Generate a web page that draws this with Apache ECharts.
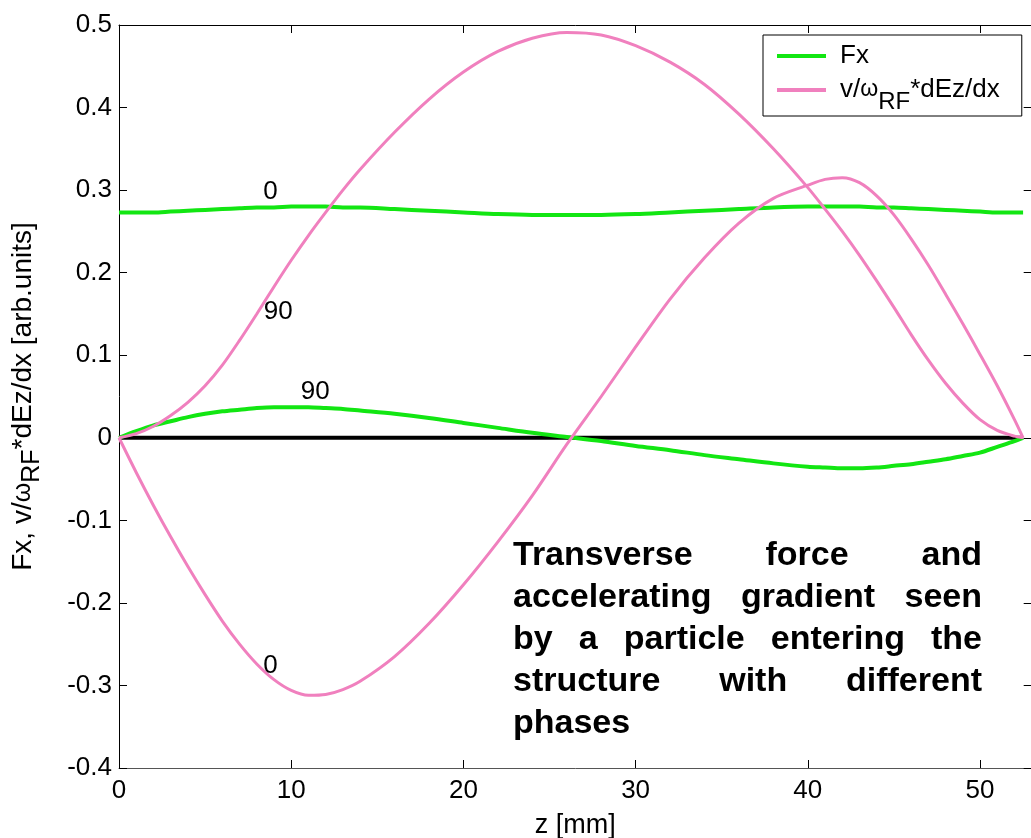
<!DOCTYPE html>
<html>
<head>
<meta charset="utf-8">
<script src="https://cdn.jsdelivr.net/npm/echarts@6/dist/echarts.min.js"></script>
<style>
  html, body { margin: 0; padding: 0; background: #fff; }
  #chart { width: 1031px; height: 838px; }
</style>
</head>
<body>
<div id="chart"></div>
<script>
// Longitudinal position along the structure [mm]
const zMm = [0, 1, 2, 3, 4, 5, 6, 7, 8, 9, 10, 11, 12, 13, 14, 16, 18, 20, 22, 24, 26, 28, 30, 32, 34, 36, 38, 40, 41, 42, 43, 44, 45, 46, 47, 48, 49, 50, 51, 52, 52.5];

// Transverse force Fx, particle entering at phase 0
const fxPhase0 = [0.273, 0.273, 0.273, 0.274, 0.275, 0.276, 0.277, 0.278, 0.279, 0.279, 0.280, 0.280, 0.280, 0.279, 0.279, 0.277, 0.275, 0.273, 0.271, 0.270, 0.270, 0.270, 0.271, 0.273, 0.275, 0.277, 0.279, 0.280, 0.280, 0.280, 0.280, 0.279, 0.279, 0.278, 0.277, 0.276, 0.275, 0.274, 0.273, 0.273, 0.273];

// Transverse force Fx, particle entering at phase 90
const fxPhase90 = [0, 0.008, 0.015, 0.020, 0.025, 0.029, 0.032, 0.034, 0.036, 0.037, 0.037, 0.037, 0.036, 0.035, 0.033, 0.029, 0.024, 0.018, 0.012, 0.006, 0.001, -0.004, -0.010, -0.015, -0.021, -0.026, -0.031, -0.035, -0.036, -0.037, -0.037, -0.036, -0.034, -0.032, -0.029, -0.026, -0.022, -0.018, -0.011, -0.004, 0];

// v/omega_RF * dEz/dx, phase 0
const gradPhase0 = [0, -0.042, -0.082, -0.120, -0.156, -0.190, -0.222, -0.250, -0.274, -0.293, -0.306, -0.312, -0.311, -0.305, -0.295, -0.265, -0.225, -0.178, -0.126, -0.070, -0.008, 0.050, 0.110, 0.168, 0.218, 0.260, 0.290, 0.306, 0.313, 0.315, 0.309, 0.293, 0.270, 0.241, 0.209, 0.174, 0.138, 0.101, 0.063, 0.022, 0];

// v/omega_RF * dEz/dx, phase 90
const gradPhase90 = [0, 0.005, 0.014, 0.027, 0.043, 0.063, 0.088, 0.118, 0.150, 0.183, 0.215, 0.245, 0.273, 0.300, 0.325, 0.370, 0.410, 0.443, 0.468, 0.484, 0.491, 0.488, 0.475, 0.455, 0.428, 0.392, 0.350, 0.303, 0.277, 0.250, 0.221, 0.190, 0.158, 0.125, 0.094, 0.066, 0.042, 0.022, 0.009, 0.002, 0];

// Phase tags written next to the curves (data coordinates)
const phaseTags = [
  { curve: 'fx0',    text: '0',  z: 8.8,  v: 0.298 },
  { curve: 'grad90', text: '90', z: 9.25, v: 0.152 },
  { curve: 'fx90',   text: '90', z: 11.4, v: 0.056 },
  { curve: 'grad0',  text: '0',  z: 8.8,  v: -0.276 }
];

const noteLines = [
  ['Transverse', 'force', 'and'],
  ['accelerating', 'gradient', 'seen'],
  ['by', 'a', 'particle', 'entering', 'the'],
  ['structure', 'with', 'different'],
  ['phases']
];

const FONT = '"Liberation Sans", Arial, Helvetica, sans-serif';
const TXT = 26;
const GREEN = '#12e612';
const PINK = '#f080be';
const FX_NAME = 'Fx';
const GRAD_NAME = 'v/ωRF*dEz/dx';

const pairs = vals => zMm.map((z, i) => [z, vals[i]]);

function tagMarks(curve) {
  return {
    symbol: 'circle', symbolSize: 1,
    itemStyle: { color: 'rgba(0,0,0,0)' },
    label: { show: true, position: 'inside', formatter: p => p.value, color: '#000', fontSize: TXT, fontFamily: FONT },
    data: phaseTags.filter(t => t.curve === curve).map(t => ({ coord: [t.z, t.v], value: t.text })),
    animation: false
  };
}

// Justified bold note, laid out word by word
const measureCtx = document.createElement('canvas').getContext('2d');
const noteFont = 'bold 34px ' + FONT;
measureCtx.font = noteFont;
const noteLeft = 513, noteWidth = 469, noteTop = 556, noteStep = 42;
const noteElems = [];
noteLines.forEach((words, li) => {
  const widths = words.map(w => measureCtx.measureText(w).width);
  const total = widths.reduce((a, b) => a + b, 0);
  const last = li === noteLines.length - 1;
  const gap = (words.length > 1 && !last) ? (noteWidth - total) / (words.length - 1) : measureCtx.measureText(' ').width;
  let x = noteLeft;
  words.forEach((w, wi) => {
    noteElems.push({
      type: 'text', x: x, y: noteTop + li * noteStep, z: 100,
      style: { text: w, font: noteFont, fill: '#000', verticalAlign: 'middle', align: 'left' }
    });
    x += widths[wi] + gap;
  });
});

const chart = echarts.init(document.getElementById('chart'), null, { renderer: 'canvas' });

const xCommon = {
  min: 0, max: 53, interval: 10, type: 'value',
  axisLine: { show: true, onZero: false, lineStyle: { color: '#000', width: 1 } },
  axisTick: { show: true, inside: true, length: 8, lineStyle: { color: '#000' } },
  splitLine: { show: false }
};
const yCommon = {
  min: -0.4, max: 0.5, interval: 0.1, type: 'value',
  axisLine: { show: true, onZero: false, lineStyle: { color: '#000', width: 1 } },
  axisTick: { show: true, inside: true, length: 8, lineStyle: { color: '#000' } },
  splitLine: { show: false }
};

chart.setOption({
  animation: false,
  backgroundColor: '#fff',
  grid: { left: 119, top: 25, width: 912.7, height: 743, containLabel: false, outerBoundsMode: 'none' },
  xAxis: [
    Object.assign({}, xCommon, {
      position: 'bottom',
      axisLine: { show: true, onZero: false, lineStyle: { color: '#555', width: 1 } },
      axisLabel: { show: true, color: '#000', fontSize: TXT, fontFamily: FONT, margin: 10, showMaxLabel: false },
      name: 'z [mm]', nameLocation: 'middle', nameGap: 44,
      nameTextStyle: { color: '#000', fontSize: 27, fontFamily: FONT }
    }),
    Object.assign({}, xCommon, { position: 'top', axisLabel: { show: false } })
  ],
  yAxis: [
    Object.assign({}, yCommon, {
      position: 'left',
      axisLabel: {
        show: true, color: '#000', fontSize: TXT, fontFamily: FONT, margin: 7,
        formatter: v => String(+v.toFixed(1))
      },
      name: 'Fx, v/{w|ω}{sub|RF}*dEz/dx [arb.units]',
      nameLocation: 'middle', nameRotate: 90, nameGap: 74,
      nameTextStyle: {
        color: '#000', fontSize: 28, fontFamily: FONT,
        rich: {
          w: { fontSize: 25, fontFamily: FONT, color: '#000' },
          sub: { fontSize: 25, fontFamily: FONT, color: '#000', padding: [18, 0, 0, 0] }
        }
      }
    }),
    Object.assign({}, yCommon, { position: 'right', axisLabel: { show: false } })
  ],
  legend: {
    orient: 'vertical', left: 763, top: 35,
    padding: [8, 22, 2, 14], itemGap: 8,
    itemWidth: 49, itemHeight: 4, icon: 'rect',
    borderColor: '#000', borderWidth: 1, backgroundColor: '#fff',
    data: [FX_NAME, GRAD_NAME],
    formatter: name => name === FX_NAME ? '{n|Fx}' : '{n|v/}{w|ω}{sub|RF}{m|*dEz/dx}',
    textStyle: {
      color: '#000', fontSize: TXT, fontFamily: FONT,
      rich: {
        n: { fontSize: TXT, fontFamily: FONT, color: '#000', padding: [0, 0, 0, 9] },
        w: { fontSize: 23, fontFamily: FONT, color: '#000' },
        sub: { fontSize: 24, fontFamily: FONT, color: '#000', padding: [24, 0, 0, 0] },
        m: { fontSize: TXT, fontFamily: FONT, color: '#000' }
      }
    },
    selectedMode: false
  },
  graphic: noteElems,
  series: [
    {
      name: 'zero', type: 'line', data: [[0, 0], [52.5, 0]],
      showSymbol: false, symbol: 'none', silent: true,
      lineStyle: { color: '#000', width: 4 }, z: 1
    },
    {
      name: FX_NAME, type: 'line', data: pairs(fxPhase0), smooth: 0.3,
      symbol: 'none', lineStyle: { color: GREEN, width: 4 }, itemStyle: { color: GREEN }, z: 2,
      markPoint: tagMarks('fx0')
    },
    {
      name: FX_NAME, type: 'line', data: pairs(fxPhase90), smooth: 0.3,
      symbol: 'none', lineStyle: { color: GREEN, width: 4 }, itemStyle: { color: GREEN }, z: 2,
      markPoint: tagMarks('fx90')
    },
    {
      name: GRAD_NAME, type: 'line', data: pairs(gradPhase0), smooth: 0.3,
      symbol: 'none', lineStyle: { color: PINK, width: 3 }, itemStyle: { color: PINK }, z: 3,
      markPoint: tagMarks('grad0')
    },
    {
      name: GRAD_NAME, type: 'line', data: pairs(gradPhase90), smooth: 0.3,
      symbol: 'none', lineStyle: { color: PINK, width: 3 }, itemStyle: { color: PINK }, z: 3,
      markPoint: tagMarks('grad90')
    }
  ]
});
</script>
</body>
</html>
